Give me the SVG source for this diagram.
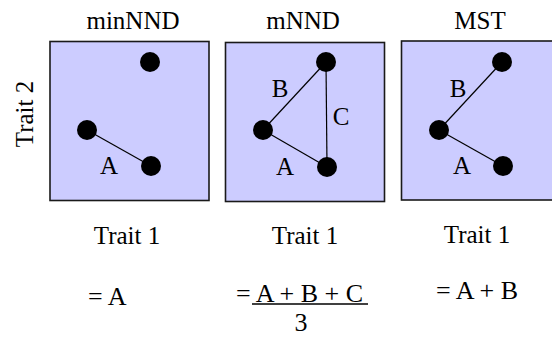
<svg xmlns="http://www.w3.org/2000/svg" width="552" height="338" viewBox="0 0 552 338">
<style>
text{font-family:"Liberation Serif","Times New Roman",serif;font-size:25px;fill:#000}
.lbl{font-size:25px;text-anchor:middle}
.eq{font-size:26px}
.box{fill:#CCCCFF;stroke:#1a1a1a;stroke-width:1.6}
.dot{fill:#000}
.edge{stroke:#000;stroke-width:1.2;fill:none}
.m{text-anchor:middle}
</style>
<rect width="552" height="338" fill="#fff"/>
<text class="m" x="133" y="29">minNND</text>
<text class="m" x="303" y="29">mNND</text>
<text class="m" x="480" y="29">MST</text>
<text class="m" transform="translate(33,114) rotate(-90)">Trait 2</text>
<g id="panel1">
<rect class="box" x="50" y="41.5" width="159" height="159"/>
</g>
<g id="panel2">
<rect class="box" x="225.5" y="42.5" width="159" height="159"/>
</g>
<g id="panel3">
<rect class="box" x="401.5" y="41" width="160" height="159"/>
</g>
<g id="connectors">
<line class="edge" x1="87" y1="130" x2="151" y2="166"/>
<line class="edge" x1="263" y1="130" x2="327" y2="167"/>
<line class="edge" x1="263" y1="130" x2="326" y2="62"/>
<line class="edge" x1="326" y1="62" x2="327" y2="167"/>
<line class="edge" x1="439" y1="130" x2="503" y2="166"/>
<line class="edge" x1="439" y1="130" x2="502" y2="62"/>
</g>
<g id="n1a"><circle class="dot" cx="150" cy="62" r="10"/></g>
<g id="n1b"><circle class="dot" cx="87" cy="130" r="10"/></g>
<g id="n1c"><circle class="dot" cx="151" cy="166" r="10"/></g>
<g id="n2a"><circle class="dot" cx="326" cy="62" r="10"/></g>
<g id="n2b"><circle class="dot" cx="263" cy="130" r="10"/></g>
<g id="n2c"><circle class="dot" cx="327" cy="167" r="10"/></g>
<g id="n3a"><circle class="dot" cx="502" cy="62" r="10"/></g>
<g id="n3b"><circle class="dot" cx="439" cy="130" r="10"/></g>
<g id="n3c"><circle class="dot" cx="503" cy="166" r="10"/></g>
<text class="lbl" x="109" y="174">A</text>
<text class="lbl" x="280" y="97">B</text>
<text class="lbl" x="341" y="125">C</text>
<text class="lbl" x="285" y="175">A</text>
<text class="lbl" x="458" y="97">B</text>
<text class="lbl" x="462" y="174">A</text>
<text class="m" x="127" y="244">Trait 1</text>
<text class="m" x="305" y="244">Trait 1</text>
<text class="m" x="477" y="243">Trait 1</text>
<text class="eq" x="88" y="305">= A</text>
<text class="eq" x="236" y="302">= A + B + C</text>
<line x1="252" y1="304" x2="368" y2="304" stroke="#000" stroke-width="1.3"/>
<text class="eq m" x="301" y="331">3</text>
<text class="eq" x="436" y="299">= A + B</text>
</svg>
